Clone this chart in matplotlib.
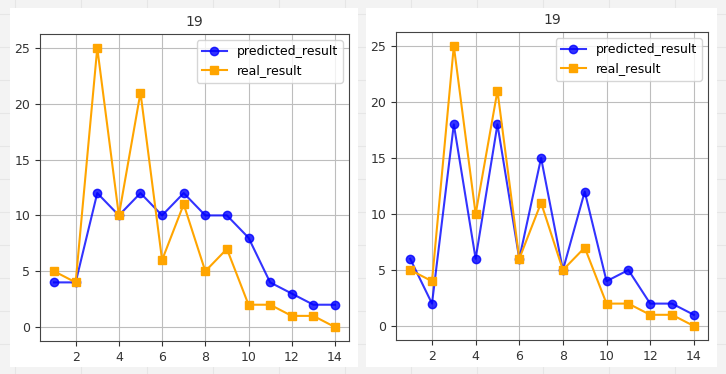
import matplotlib.pyplot as plt
from matplotlib.patches import Rectangle
from matplotlib.lines import Line2D

# data
x = list(range(1, 15))
pred_left = [4, 4, 12, 10, 12, 10, 12, 10, 10, 8, 4, 3, 2, 2]
pred_right = [6, 2, 18, 6, 18, 6, 15, 5, 12, 4, 5, 2, 2, 1]
real = [5, 4, 25, 10, 21, 6, 11, 5, 7, 2, 2, 1, 1, 0]
titles = ['19', '19']

plt.rcParams['font.size'] = 9

W, H = 726, 374
fig = plt.figure(figsize=(W / 100, H / 100), dpi=100, facecolor='#f3f3f3')

# faint sheet grid in the background
for gx in range(15, W, 66):
    fig.add_artist(Line2D([gx / W, gx / W], [0, 1], color='#e6e6e6', lw=0.8, zorder=-2))
for gy in range(14, H, 33):
    fig.add_artist(Line2D([0, 1], [1 - gy / H, 1 - gy / H], color='#e6e6e6', lw=0.8, zorder=-2))

# white panels (the two pasted images)
for px0, px1 in [(10, 358), (366, 717)]:
    fig.add_artist(Rectangle((px0 / W, 1 - 367 / H), (px1 - px0) / W, 359 / H,
                             facecolor='white', edgecolor='none', zorder=-1))

boxes = [(40, 34, 349, 341), (396, 32, 708, 340)]
for (l, t, r, b), pred, title in zip(boxes, [pred_left, pred_right], titles):
    ax = fig.add_axes([l / W, 1 - b / H, (r - l) / W, (b - t) / H])
    ax.plot(x, pred, color='blue', marker='o', alpha=0.8, lw=1.5, label='predicted_result')
    ax.plot(x, real, color='orange', marker='s', lw=1.5, label='real_result')
    ax.set_title(title, color='#333333', fontsize=10)
    ax.set_xticks([2, 4, 6, 8, 10, 12, 14])
    ax.set_yticks([0, 5, 10, 15, 20, 25])
    ax.tick_params(colors='#333333')
    ax.grid(True, color='#bdbdbd')
    for s in ax.spines.values():
        s.set_color('#444444')
    ax.legend(loc='upper right')

fig.savefig('out.png', dpi=100, facecolor=fig.get_facecolor())
